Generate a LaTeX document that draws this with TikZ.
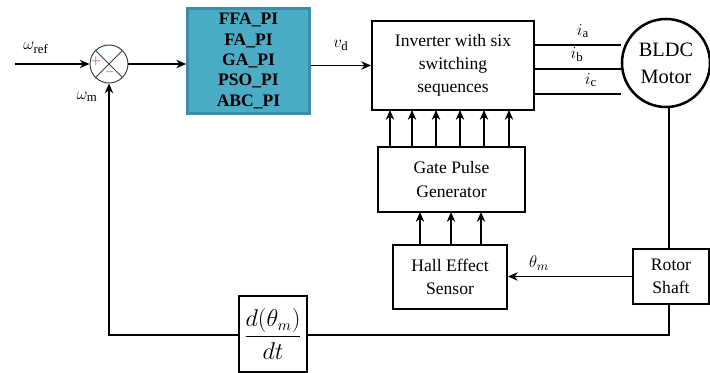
\documentclass[tikz,border=0pt]{standalone}
\usepackage{tikz,amsmath}
\usepackage{fontspec}
\setmainfont{Liberation Serif}
\usetikzlibrary{arrows.meta}
\definecolor{piteal}{HTML}{4BACC6}
\definecolor{piedge}{HTML}{3A8DA6}
\definecolor{plusred}{HTML}{B0303A}
\definecolor{minusblue}{HTML}{2F4F9F}
\tikzstyle{blk} = [draw, line width=1.3pt, rectangle, align=center, inner sep=1pt, font=\fontsize{12.5}{16.5}\selectfont]
\tikzstyle{lbl} = [font=\fontsize{13}{15}\selectfont]
\tikzstyle{wire} = [line width=0.8pt]
\tikzstyle{sig} = [line width=0.8pt, -{Stealth[length=7pt,width=6pt]}]
\tikzset{
  every picture/.append style={x=0.025cm, y=-0.025cm},
}

\begin{document}
\begin{tikzpicture}
    \useasboundingbox (0,0) rectangle (710,373);
    % blocks
    \draw (109,64) node[draw, line width=0.7pt, black!75, circle, minimum size=0.95cm, inner sep=0pt] (sum) {};
    \draw (248.5,61) node[blk, fill=piteal, draw=piedge, line width=1.8pt, minimum width=3.05cm, minimum height=2.63cm,
        font=\fontsize{12.5}{14.5}\selectfont\bfseries] (pi) {FFA\_PI\\FA\_PI\\GA\_PI\\PSO\_PI\\ABC\_PI};
    \draw (453,65.5) node[blk, minimum width=4.05cm, minimum height=2.22cm] (inv) {Inverter with six\\switching\\sequences};
    \draw (666,63) node[draw, line width=1.8pt, circle, minimum size=2.2cm, align=center, font=\fontsize{14.5}{19}\selectfont] (motor) {BLDC\\Motor};
    \draw (451.5,179.5) node[blk, minimum width=3.67cm, minimum height=1.62cm] (gate) {Gate Pulse\\Generator};
    \draw (450,277) node[blk, minimum width=2.85cm, minimum height=1.6cm] (hall) {Hall Effect\\Sensor};
    \draw (671,276.5) node[blk, minimum width=1.9cm, minimum height=1.37cm] (rotor) {Rotor\\Shaft};
    \draw (273,334) node[blk, minimum width=1.7cm, minimum height=1.9cm, font=\fontsize{16}{18}\selectfont] (deriv) {$\dfrac{d(\theta_m)}{dt}$};

    % summing junction
    \draw[line width=0.7pt, black!75] (sum.45) -- (sum.225);
    \draw[line width=0.7pt, black!75] (sum.135) -- (sum.315);
    \node[plusred, font=\small] (plus) at (96,61) {$+$};
    \node[minusblue, font=\small] (minus) at (110,72) {$-$};

    % forward path
    \coordinate (in) at (15,64);
    \draw[sig] (in) -- (sum.west);
    \node[lbl] (wref) at (36,48) {$\omega_{\mathrm{ref}}$};
    \draw[sig] (sum.east) -- (sum.east -| pi.west);
    \draw[sig] (pi.east |- inv.west) -- (inv.west);
    \node[lbl] (vd) at (341,45) {$v_{\mathrm{d}}$};

    % phase currents
    \foreach \y/\ph/\lx in {45/a/583, 69/b/577, 94/c/591} {
        \coordinate (o\ph) at (534,\y);
        \draw[wire] (o\ph) -- (o\ph -| motor.west) ;
        \node[lbl] (lab\ph) at (\lx,\y-14) {$i_{\mathrm{\ph}}$};
    }

    % gate signals
    \foreach \x in {390,412,436,460,484,509}
        \draw[sig] (\x,147) -- (\x,110);
    \foreach \x in {420,451,481}
        \draw[sig] (\x,245) -- (\x,212);

    % sensing and feedback
    \coordinate (shaft) at (669,249);
    \draw[wire] (669,107) -- (shaft);
    \draw[sig] (rotor.west) -- (hall.east |- rotor.west);
    \node[lbl] (thm) at (539,263) {$\theta_m$};
    \coordinate (fb1) at (669,335);
    \coordinate (fb2) at (109,335);
    \draw[wire] (669,304) -- (fb1) -- (deriv.east |- fb1);
    \draw[sig] (deriv.west |- fb2) -- (fb2) -- (sum.south);
    \node[lbl] (wm) at (87,97) {$\omega_{\mathrm{m}}$};
\end{tikzpicture}
\end{document}
